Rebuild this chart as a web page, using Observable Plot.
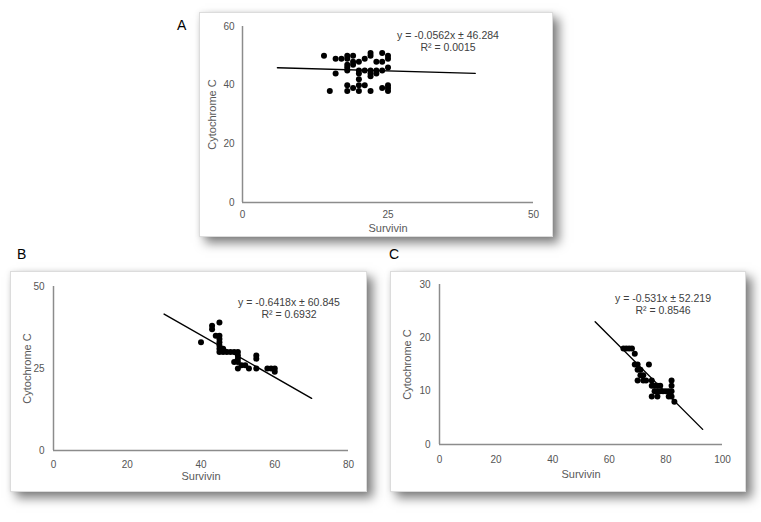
<!DOCTYPE html>
<html><head><meta charset="utf-8">
<script src="https://cdn.jsdelivr.net/npm/d3@7"></script>
<script src="https://cdn.jsdelivr.net/npm/@observablehq/plot@0.6"></script>
<style>
body{margin:0;background:#fff;font-family:"Liberation Sans",Arial,sans-serif;}
#root{position:relative;width:761px;height:522px;overflow:hidden;background:#fff;}
.panel{position:absolute;background:#fff;border:1px solid #dcdcdc;box-shadow:6px 6px 10px rgba(0,0,0,0.5),0 0 5px rgba(0,0,0,0.08);}
.panel svg{display:block;}
.letter{position:absolute;font-size:14px;line-height:14px;color:#000;font-family:"Liberation Sans",Arial,sans-serif;}
</style></head><body><div id="root"></div>
<script>
// Panel letters
const panelLetters = ["A", "B", "C"];
const axisTitleX = "Survivin";
const axisTitleY = "Cytochrome C";

// Panel A data
const aSurvivin = [14,15,16,16,17,18,18,18,18,18,18,18,19,19,19,19,20,20,20,20,20,20,21,21,21,22,22,22,22,22,22,23,23,23,24,24,24,24,25,25,25,25,25,25];
const aCytochrome = [50,38,49,44,49,50,49,47,46,45,40,38,50,48,47,39,48,45,44,42,40,38,49,45,40,51,50,45,44,43,38,48,45,44,51,48,45,39,50,49,46,40,39,38];
const aXTicks = [0, 25, 50];
const aYTicks = [0, 20, 40, 60];
const aTrendRange = [6, 40];
const aSlope = -0.0562, aIntercept = 46.284;
const aEquation = ["y = -0.0562x ± 46.284", "R² = 0.0015"];

// Panel B data
const bSurvivin = [40,43,43,44,45,45,45,45,45,45,45,46,46,47,48,49,49,50,50,50,50,50,51,52,53,55,55,55,58,59,60,60];
const bCytochrome = [33,38,37,35,39,35,34,33,32,31,30,31,30,30,30,30,27,30,29,28,27,25,26,26,25,29,28,25,25,25,25,24];
const bXTicks = [0, 20, 40, 60, 80];
const bYTicks = [0, 25, 50];
const bTrendRange = [30, 70];
const bSlope = -0.6418, bIntercept = 60.845;
const bEquation = ["y = -0.6418x ± 60.845", "R² = 0.6932"];

// Panel C data
const cSurvivin = [65,66,67,68,69,69,70,70,70,71,71,72,72,73,74,75,75,75,76,76,77,77,77,78,78,79,80,81,81,82,82,82,82,83];
const cCytochrome = [18,18,18,18,17,15,15,14,12,14,13,13,12,12,15,12,11,9,11,10,11,10,9,10,11,10,10,10,9,12,11,10,9,8];
const cXTicks = [0, 20, 40, 60, 80, 100];
const cYTicks = [0, 10, 20, 30];
const cTrendRange = [55, 93];
const cSlope = -0.531, cIntercept = 52.219;
const cEquation = ["y = -0.531x ± 52.219", "R² = 0.8546"];

const root = document.getElementById("root");
const FONT = "'Liberation Sans', Arial, sans-serif";

function drawPanel(cfg) {
  const pts = cfg.xs.map((x, i) => ({x, y: cfg.ys[i]}));
  const trend = cfg.trendRange.map(x => ({x, y: cfg.slope * x + cfg.intercept}));
  const xt = cfg.xTicks, yt = cfg.yTicks;
  const chart = Plot.plot({
    width: cfg.w, height: cfg.h,
    marginLeft: cfg.m[0], marginRight: cfg.m[1], marginTop: cfg.m[2], marginBottom: cfg.m[3],
    style: {fontFamily: FONT, background: "#fff", overflow: "visible"},
    x: {domain: [xt[0], xt[xt.length - 1]]},
    y: {domain: [yt[0], yt[yt.length - 1]]},
    marks: [
      Plot.axisX({ticks: xt, tickSize: 0, tickPadding: cfg.xPad, label: null, fontSize: 10, color: "#555"}),
      Plot.axisY({ticks: yt, tickSize: 0, tickPadding: cfg.yPad, label: null, fontSize: 10, color: "#555"}),
      Plot.ruleY([yt[0]], {stroke: "#8c8c8c", strokeWidth: 1.5}),
      Plot.ruleX([xt[0]], {stroke: "#8c8c8c", strokeWidth: 1.5}),
      Plot.line(trend, {x: "x", y: "y", stroke: "#000", strokeWidth: 1.4}),
      Plot.dot(pts, {x: "x", y: "y", r: 3, fill: "#000", stroke: "none"}),
      Plot.text([axisTitleX], {frameAnchor: "bottom", lineAnchor: "middle", textAnchor: "middle", dy: cfg.xLabelDy, fontSize: 11, fill: "#595959"}),
      Plot.text([axisTitleY], {frameAnchor: "left", lineAnchor: "middle", textAnchor: "middle", dx: cfg.yLabelDx, rotate: -90, fontSize: 11, fill: "#595959"}),
      Plot.text([cfg.eq[0]], {frameAnchor: "top", lineAnchor: "middle", textAnchor: "middle", dx: cfg.eqDx, dy: cfg.eqDy, fontSize: 10.5, fill: "#404040"}),
      Plot.text([cfg.eq[1]], {frameAnchor: "top", lineAnchor: "middle", textAnchor: "middle", dx: cfg.eqDx, dy: cfg.eqDy + 12, fontSize: 10.5, fill: "#404040"})
    ]
  });
  const div = document.createElement("div");
  div.className = "panel";
  div.style.left = (cfg.left - 1) + "px";
  div.style.top = (cfg.top - 1) + "px";
  div.style.width = cfg.w + "px";
  div.style.height = cfg.h + "px";
  div.appendChild(chart);
  root.appendChild(div);
  const lab = document.createElement("div");
  lab.className = "letter";
  lab.textContent = cfg.letter;
  lab.style.left = cfg.letterPos[0] + "px";
  lab.style.top = cfg.letterPos[1] + "px";
  root.appendChild(lab);
}

drawPanel({
  letter: panelLetters[0], letterPos: [177, 18],
  left: 200, top: 13, w: 352, h: 223, m: [42, 19, 13, 34],
  xs: aSurvivin, ys: aCytochrome, xTicks: aXTicks, yTicks: aYTicks,
  trendRange: aTrendRange, slope: aSlope, intercept: aIntercept, eq: aEquation,
  xPad: 8, yPad: 8, xLabelDy: 26, yLabelDx: -30, eqDx: 60, eqDy: 9
});
drawPanel({
  letter: panelLetters[1], letterPos: [17, 247],
  left: 11, top: 272, w: 355, h: 219, m: [42, 18, 14, 41],
  xs: bSurvivin, ys: bCytochrome, xTicks: bXTicks, yTicks: bYTicks,
  trendRange: bTrendRange, slope: bSlope, intercept: bIntercept, eq: bEquation,
  xPad: 10, yPad: 9, xLabelDy: 26, yLabelDx: -26, eqDx: 88, eqDy: 16
});
drawPanel({
  letter: panelLetters[2], letterPos: [389, 247],
  left: 391, top: 272, w: 354, h: 219, m: [48, 23, 12, 47],
  xs: cSurvivin, ys: cCytochrome, xTicks: cXTicks, yTicks: cYTicks,
  trendRange: cTrendRange, slope: cSlope, intercept: cIntercept, eq: cEquation,
  xPad: 11, yPad: 9, xLabelDy: 30, yLabelDx: -32, eqDx: 82, eqDy: 14
});
</script>
</body></html>
